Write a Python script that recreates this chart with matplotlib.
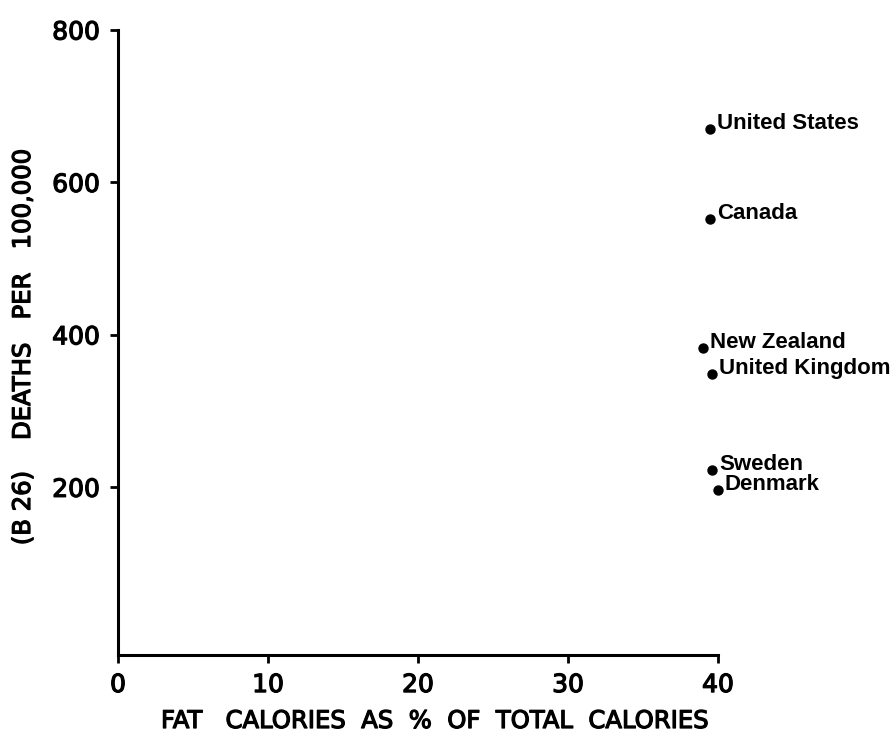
import matplotlib
matplotlib.use("Agg")
import matplotlib.pyplot as plt
import matplotlib.patheffects as pe

# Fat intake vs. deaths per 100,000, by country
countries = ["United States", "Canada", "New Zealand", "United Kingdom", "Sweden", "Denmark"]
fat_pct = [39.5, 39.5, 39.0, 39.6, 39.6, 40.0]
deaths = [670, 552, 383, 349, 223, 196]

x_ticks = [0, 10, 20, 30, 40]
y_ticks = [200, 400, 600, 800]

plt.rcParams["font.family"] = ["DejaVu Sans"]

# slightly heavier strokes for the lettering
heavy = [pe.withStroke(linewidth=0.9, foreground="black")]

fig = plt.figure(figsize=(8.95, 7.38), dpi=100)
ax = fig.add_axes([118 / 895, 1 - 655 / 738, 600 / 895, 625 / 738])

ax.scatter(fat_pct, deaths, s=42, color="black", zorder=3, clip_on=False)

for name, x, y in zip(countries, fat_pct, deaths):
    ax.annotate(name, (x, y), xytext=(5, 4), textcoords="offset points",
                ha="left", va="center", fontsize=16, fontweight="bold",
                family=["Liberation Sans", "DejaVu Sans"],
                annotation_clip=False)

ax.set_xlim(0, 40)
ax.set_ylim(-20, 800)
ax.set_xticks(x_ticks)
ax.set_xticklabels([str(t) for t in x_ticks])
ax.set_yticks(y_ticks)
ax.set_yticklabels([str(t) for t in y_ticks])

for side in ("top", "right"):
    ax.spines[side].set_visible(False)
for side in ("left", "bottom"):
    ax.spines[side].set_linewidth(2.2)
    ax.spines[side].set_color("black")

ax.tick_params(axis="both", direction="out", length=6, width=2, colors="black",
               labelsize=18, pad=7)
for lbl in ax.get_xticklabels() + ax.get_yticklabels():
    lbl.set_path_effects(heavy)

fig.text(435 / 895, 1 - 721 / 738, "FAT   CALORIES  AS  %  OF  TOTAL  CALORIES",
         ha="center", va="center", fontsize=17.5, path_effects=heavy)
fig.text(23 / 895, 1 - 347 / 738, "(B 26)    DEATHS   PER   100,000",
         rotation=90, ha="center", va="center", fontsize=17.5, path_effects=heavy)

fig.savefig("out.png", dpi=100, facecolor="white")
